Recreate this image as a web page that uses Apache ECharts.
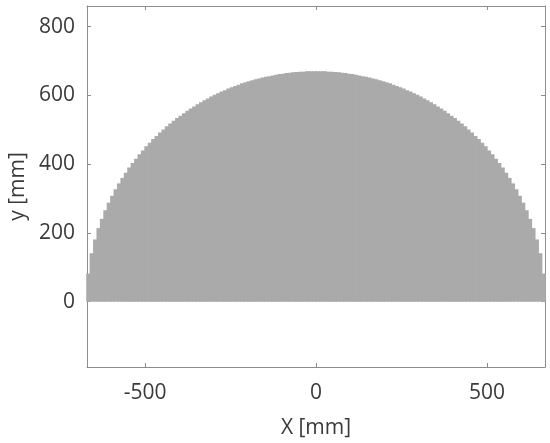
<!DOCTYPE html>
<html>
<head>
<meta charset="utf-8">
<script src="https://cdn.jsdelivr.net/npm/echarts@6/dist/echarts.min.js"></script>
<style>
  html, body { margin: 0; padding: 0; background: #fff; }
  #chart { width: 550px; height: 443px; }
</style>
</head>
<body>
<div id="chart"></div>
<script>
// bar centres along x [mm], 10 mm apart
var xPos = [
  -665, -655, -645, -635, -625, -615, -605, -595, -585, -575, -565, -555, -545, -535, -525, -515, -505,
  -495, -485, -475, -465, -455, -445, -435, -425, -415, -405, -395, -385, -375, -365, -355, -345,
  -335, -325, -315, -305, -295, -285, -275, -265, -255, -245, -235, -225, -215, -205, -195, -185,
  -175, -165, -155, -145, -135, -125, -115, -105, -95, -85, -75, -65, -55, -45, -35, -25, -15, -5,
  5, 15, 25, 35, 45, 55, 65, 75, 85, 95, 105, 115, 125, 135, 145, 155, 165, 175, 185, 195,
  205, 215, 225, 235, 245, 255, 265, 275, 285, 295, 305, 315, 325, 335, 345, 355, 365, 375,
  385, 395, 405, 415, 425, 435, 445, 455, 465, 475, 485, 495, 505, 515, 525, 535, 545, 555,
  565, 575, 585, 595, 605, 615, 625, 635, 645, 655, 665
];
// heights [mm]
var yHeight = [
  82, 141, 181, 214, 241, 266, 288, 308, 327, 344, 360, 375, 390, 403, 416, 429, 440,
  452, 462, 473, 482, 492, 501, 510, 518, 526, 534, 541, 548, 555, 562, 568, 574,
  580, 586, 591, 597, 602, 606, 611, 615, 620, 624, 627, 631, 635, 638, 641, 644,
  647, 649, 652, 654, 656, 658, 660, 662, 663, 665, 666, 667, 668, 669, 669, 670, 670, 670,
  670, 670, 670, 669, 669, 668, 667, 666, 665, 663, 662, 660, 658, 656, 654, 652, 649, 647, 644, 641,
  638, 635, 631, 627, 624, 620, 615, 611, 606, 602, 597, 591, 586, 580, 574, 568, 562, 555,
  548, 541, 534, 526, 518, 510, 501, 492, 482, 473, 462, 452, 440, 429, 416, 403, 390, 375,
  360, 344, 327, 308, 288, 266, 241, 214, 181, 141, 82
];
var xTicks = [-500, 0, 500];
var yTicks = [0, 200, 400, 600, 800];

var axisColor = '#8c8c8c';
var textColor = '#3a3a3a';
var fontFamily = 'Open Sans';

var chart = echarts.init(document.getElementById('chart'));

function tickStyle(values) {
  return { show: true, inside: true, length: 4, customValues: values, lineStyle: { color: axisColor } };
}

var axisLine = { show: true, onZero: false, lineStyle: { color: axisColor, width: 1 } };

var option = {
  animation: false,
  backgroundColor: '#ffffff',
  grid: { left: 87, right: 5, top: 6, bottom: 76, containLabel: false, outerBoundsMode: 'none' },
  xAxis: [
    {
      type: 'value', position: 'bottom', min: -670, max: 670,
      name: 'X [mm]', nameLocation: 'middle', nameGap: 51,
      nameTextStyle: { color: textColor, fontSize: 21, fontFamily: fontFamily },
      axisLine: axisLine,
      axisTick: tickStyle(xTicks),
      splitLine: { show: false },
      axisLabel: { customValues: xTicks, color: textColor, fontSize: 21, fontFamily: fontFamily, margin: 16 }
    },
    {
      type: 'value', position: 'top', min: -670, max: 670,
      axisLine: axisLine,
      axisTick: tickStyle(xTicks),
      splitLine: { show: false },
      axisLabel: { show: false }
    }
  ],
  yAxis: [
    {
      type: 'value', position: 'left', min: -190, max: 860,
      name: 'y [mm]', nameLocation: 'middle', nameGap: 43, nameRotate: 90,
      nameTextStyle: { color: textColor, fontSize: 21, fontFamily: fontFamily },
      axisLine: axisLine,
      axisTick: tickStyle(yTicks),
      splitLine: { show: false },
      axisLabel: { customValues: yTicks, color: textColor, fontSize: 21, fontFamily: fontFamily, margin: 12 }
    },
    {
      type: 'value', position: 'right', min: -190, max: 860,
      axisLine: axisLine,
      axisTick: tickStyle(yTicks),
      splitLine: { show: false },
      axisLabel: { show: false }
    }
  ],
  series: [
    {
      type: 'bar',
      xAxisIndex: 0,
      yAxisIndex: 0,
      barWidth: 5,
      itemStyle: { color: '#aaaaaa', borderWidth: 0 },
      emphasis: { disabled: true },
      data: xPos.map(function (x, i) { return [x, yHeight[i]]; })
    }
  ]
};

chart.setOption(option);
</script>
</body>
</html>
